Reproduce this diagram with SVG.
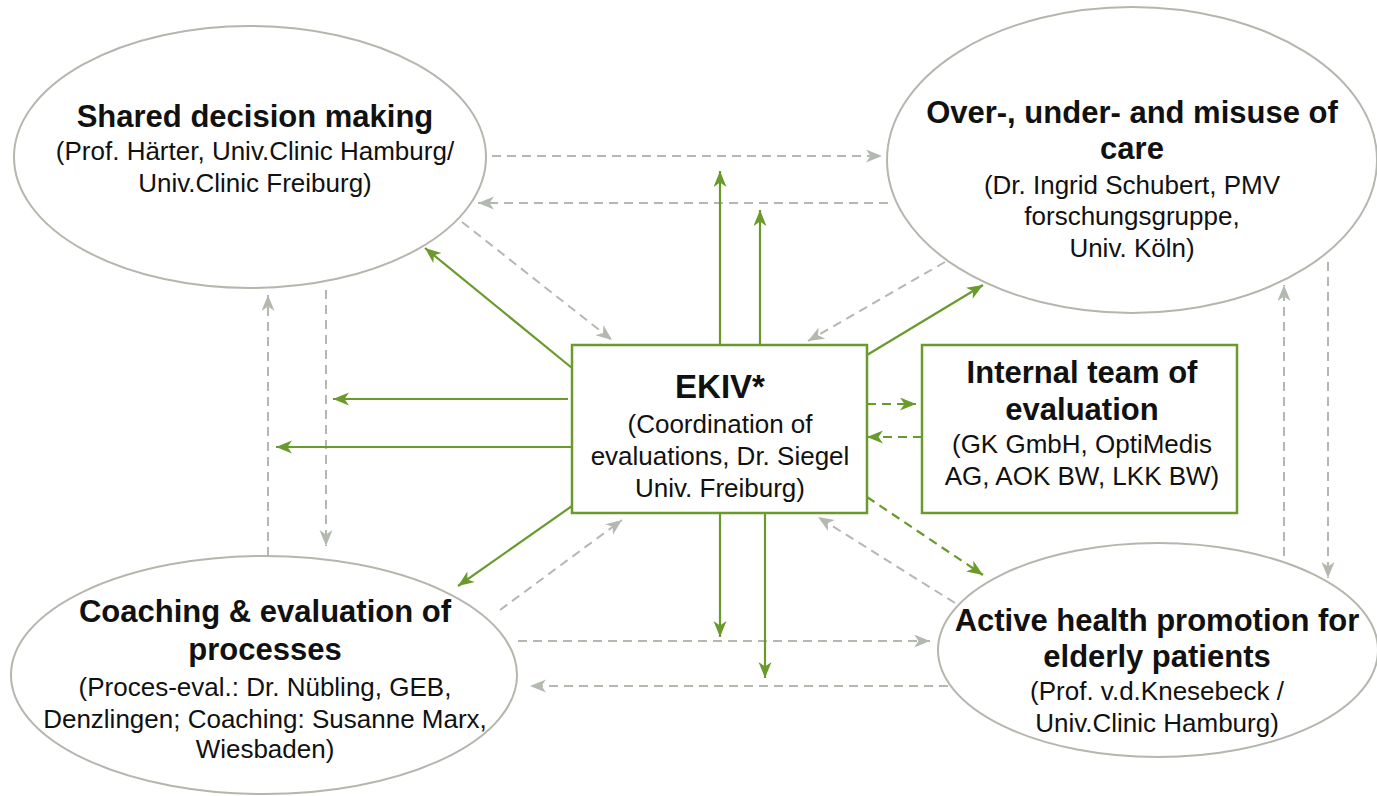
<svg xmlns="http://www.w3.org/2000/svg" width="1377" height="796" viewBox="0 0 1377 796">
<style>
.ell{fill:#fff;stroke:#b3b7ad;stroke-width:2}
.box{fill:#fff;stroke:#6a9a2c;stroke-width:2.5}
.t{font-family:"Liberation Sans",Arial,sans-serif;fill:#111;text-anchor:middle}
.b{font-weight:bold;font-size:31px}
.r{font-size:26px}
.g{stroke:#6a9a2c;stroke-width:2.2;fill:none;marker-end:url(#ag)}
.gd{stroke:#6a9a2c;stroke-width:2.2;fill:none;stroke-dasharray:9 6;marker-end:url(#ag)}
.d{stroke:#b4b9b0;stroke-width:2;fill:none;stroke-dasharray:9 6;marker-end:url(#ad)}
</style>
<defs>
<marker id="ag" markerUnits="userSpaceOnUse" markerWidth="18" markerHeight="14" refX="16" refY="6.5" orient="auto" viewBox="0 0 18 14">
<path d="M0,0 L16,6.5 L0,13 L4.5,6.5 Z" fill="#6a9a2c"/>
</marker>
<marker id="ad" markerUnits="userSpaceOnUse" markerWidth="18" markerHeight="14" refX="16" refY="6.5" orient="auto" viewBox="0 0 18 14">
<path d="M0,0 L16,6.5 L0,13 L4.5,6.5 Z" fill="#b4b9b0"/>
</marker>
</defs>
<rect width="1377" height="796" fill="#fff"/>

<g id="connectors">
<line class="d" x1="492" y1="156" x2="882" y2="156"/>
<line class="d" x1="888" y1="203" x2="478" y2="203"/>
<line class="d" x1="462" y1="222" x2="612" y2="340"/>
<line class="d" x1="945" y1="262" x2="808" y2="341"/>
<line class="d" x1="500" y1="610" x2="622" y2="520"/>
<line class="d" x1="955" y1="603" x2="818" y2="517"/>
<line class="d" x1="518" y1="641" x2="930" y2="641"/>
<line class="d" x1="948" y1="686" x2="530" y2="686"/>
<line class="d" x1="268" y1="556" x2="268" y2="295"/>
<line class="d" x1="326" y1="290" x2="326" y2="546"/>
<line class="d" x1="1284" y1="556" x2="1284" y2="285"/>
<line class="d" x1="1328" y1="262" x2="1328" y2="578"/>

<line class="g" x1="720" y1="345" x2="720" y2="171"/>
<line class="g" x1="760" y1="345" x2="760" y2="210"/>
<line class="g" x1="572" y1="368" x2="425" y2="248"/>
<line class="g" x1="867" y1="355" x2="983" y2="285"/>
<line class="g" x1="568" y1="399" x2="333" y2="399"/>
<line class="g" x1="572" y1="447" x2="276" y2="447"/>
<line class="g" x1="572" y1="506" x2="458" y2="586"/>
<line class="g" x1="720" y1="513" x2="720" y2="637"/>
<line class="g" x1="765" y1="513" x2="765" y2="678"/>
<line class="gd" x1="867" y1="404" x2="916" y2="404"/>
<line class="gd" x1="922" y1="437" x2="867" y2="437"/>
<line class="gd" x1="867" y1="497" x2="983" y2="575"/>
</g>

<g id="shared-decision">
<ellipse class="ell" cx="250" cy="157" rx="236" ry="131"/>
<text class="t b" x="255" y="127">Shared decision making</text>
<text class="t r" x="255" y="160">(Prof. Härter, Univ.Clinic Hamburg/</text>
<text class="t r" x="255" y="192">Univ.Clinic Freiburg)</text>
</g>

<g id="misuse-of-care">
<ellipse class="ell" cx="1132" cy="160" rx="245" ry="153"/>
<text class="t b" x="1132" y="123">Over-, under- and misuse of</text>
<text class="t b" x="1132" y="159">care</text>
<text class="t r" x="1132" y="194">(Dr. Ingrid Schubert, PMV</text>
<text class="t r" x="1132" y="225">forschungsgruppe,</text>
<text class="t r" x="1132" y="257">Univ. Köln)</text>
</g>

<g id="ekiv">
<rect class="box" x="572" y="345" width="295" height="168"/>
<text class="t" x="720" y="398" font-weight="bold" font-size="33">EKIV*</text>
<text class="t r" x="720" y="433">(Coordination of</text>
<text class="t r" x="720" y="465">evaluations, Dr. Siegel</text>
<text class="t r" x="720" y="497">Univ. Freiburg)</text>
</g>

<g id="internal-team">
<rect class="box" x="922" y="345" width="315" height="168"/>
<text class="t b" x="1082" y="383">Internal team of</text>
<text class="t b" x="1082" y="420">evaluation</text>
<text class="t r" x="1082" y="453">(GK GmbH, OptiMedis</text>
<text class="t r" x="1082" y="485">AG, AOK BW, LKK BW)</text>
</g>

<g id="coaching">
<ellipse class="ell" cx="264" cy="675" rx="253" ry="119"/>
<text class="t b" x="265" y="622">Coaching &amp; evaluation of</text>
<text class="t b" x="265" y="660">processes</text>
<text class="t r" x="265" y="696">(Proces-eval.: Dr. Nübling, GEB,</text>
<text class="t r" x="265" y="728">Denzlingen; Coaching: Susanne Marx,</text>
<text class="t r" x="265" y="758">Wiesbaden)</text>
</g>

<g id="active-health">
<ellipse class="ell" cx="1158" cy="650" rx="220" ry="107"/>
<text class="t b" x="1157" y="631">Active health promotion for</text>
<text class="t b" x="1157" y="667">elderly patients</text>
<text class="t r" x="1157" y="700">(Prof. v.d.Knesebeck /</text>
<text class="t r" x="1157" y="732">Univ.Clinic Hamburg)</text>
</g>
</svg>
